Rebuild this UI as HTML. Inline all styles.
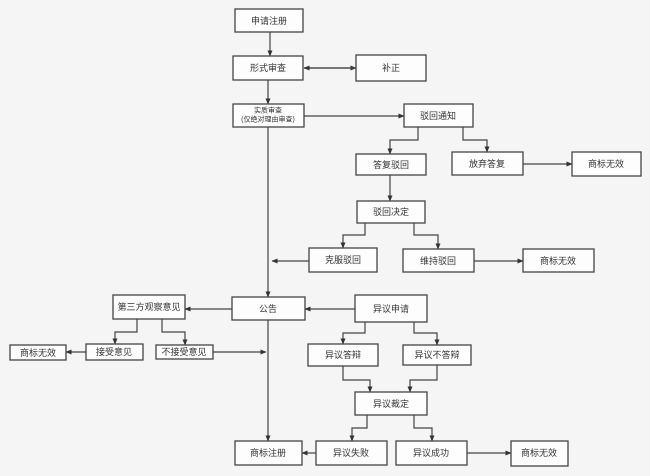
<!DOCTYPE html>
<html><head><meta charset="utf-8"><style>
html,body{margin:0;padding:0;background:#f5f5f5;}
svg{display:block;}
text{font-family:"Liberation Sans","Noto Sans CJK SC",sans-serif;font-size:9px;fill:#333;text-anchor:middle;dominant-baseline:central;}
.b{fill:#fdfdfd;stroke:#444;stroke-width:1.3;}
.l{fill:none;stroke:#444;stroke-width:1.2;}
</style></head><body>
<svg width="650" height="476" viewBox="0 0 650 476">
<defs><marker id="a" markerWidth="6" markerHeight="6" refX="5.5" refY="3" orient="auto" markerUnits="userSpaceOnUse"><path d="M0,0.5 L6,3 L0,5.5z" fill="#333"/></marker></defs>
<rect width="650" height="476" fill="#f5f5f5"/>
<g class="l" marker-end="url(#a)">
<path d="M270,32V56"/>
<path d="M304,68H356"/>
<path d="M356,68H304"/>
<path d="M268,80V104"/>
<path d="M304,116H404"/>
<path d="M268,127V297"/>
<path d="M268,320V441"/>
<path d="M418,127V140H390V154"/>
<path d="M463,127V140H487V152"/>
<path d="M523,164H572"/>
<path d="M390,175V201"/>
<path d="M365,223V235H343V248"/>
<path d="M414,223V235H438V249"/>
<path d="M474,261H523"/>
<path d="M309,261H272"/>
<path d="M232,309H185"/>
<path d="M355,309H305"/>
<path d="M137,319V332H115V344"/>
<path d="M162,319V332H185V345"/>
<path d="M86,352H66"/>
<path d="M213,352H266"/>
<path d="M365,322V333H343V344"/>
<path d="M414,322V333H437V345"/>
<path d="M343,366V380H370V392"/>
<path d="M437,365V380H410V392"/>
<path d="M367,415V428H352V441"/>
<path d="M414,415V428H432V441"/>
<path d="M316,453H302"/>
<path d="M467,453H511"/>
</g>
<g>
<rect class="b" x="235" y="9" width="68" height="23"/><text x="269" y="21">申请注册</text>
<rect class="b" x="233" y="56" width="70" height="24"/><text x="268" y="68">形式审查</text>
<rect class="b" x="356" y="55" width="70" height="26"/><text x="391" y="68">补正</text>
<rect class="b" x="233" y="104" width="71" height="23"/><text x="268" y="111" style="font-size:7px">实质审查</text><text x="268" y="120" style="font-size:7px">(仅绝对理由审查)</text>
<rect class="b" x="404" y="104" width="69" height="23"/><text x="438" y="116">驳回通知</text>
<rect class="b" x="356" y="154" width="70" height="21"/><text x="391" y="165">答复驳回</text>
<rect class="b" x="452" y="152" width="71" height="23"/><text x="487" y="164">放弃答复</text>
<rect class="b" x="572" y="152" width="69" height="24"/><text x="606" y="164">商标无效</text>
<rect class="b" x="357" y="201" width="68" height="22"/><text x="391" y="212">驳回决定</text>
<rect class="b" x="309" y="248" width="68" height="24"/><text x="343" y="260">克服驳回</text>
<rect class="b" x="403" y="249" width="71" height="23"/><text x="438" y="261">维持驳回</text>
<rect class="b" x="523" y="249" width="71" height="23"/><text x="558" y="261">商标无效</text>
<rect class="b" x="113" y="295" width="72" height="24"/><text x="149" y="307">第三方观察意见</text>
<rect class="b" x="232" y="297" width="73" height="23"/><text x="268" y="309">公告</text>
<rect class="b" x="355" y="295" width="72" height="27"/><text x="391" y="309">异议申请</text>
<rect class="b" x="10" y="345" width="56" height="15"/><text x="38" y="353">商标无效</text>
<rect class="b" x="86" y="344" width="57" height="16"/><text x="114" y="352">接受意见</text>
<rect class="b" x="156" y="345" width="57" height="14"/><text x="184" y="352">不接受意见</text>
<rect class="b" x="308" y="344" width="70" height="22"/><text x="343" y="355">异议答辩</text>
<rect class="b" x="403" y="345" width="68" height="20"/><text x="437" y="355">异议不答辩</text>
<rect class="b" x="355" y="392" width="72" height="23"/><text x="391" y="404">异议裁定</text>
<rect class="b" x="235" y="441" width="67" height="24"/><text x="268" y="453">商标注册</text>
<rect class="b" x="316" y="441" width="71" height="24"/><text x="351" y="453">异议失败</text>
<rect class="b" x="396" y="441" width="71" height="24"/><text x="431" y="453">异议成功</text>
<rect class="b" x="511" y="441" width="57" height="25"/><text x="539" y="453">商标无效</text>
</g>
</svg>
</body></html>
